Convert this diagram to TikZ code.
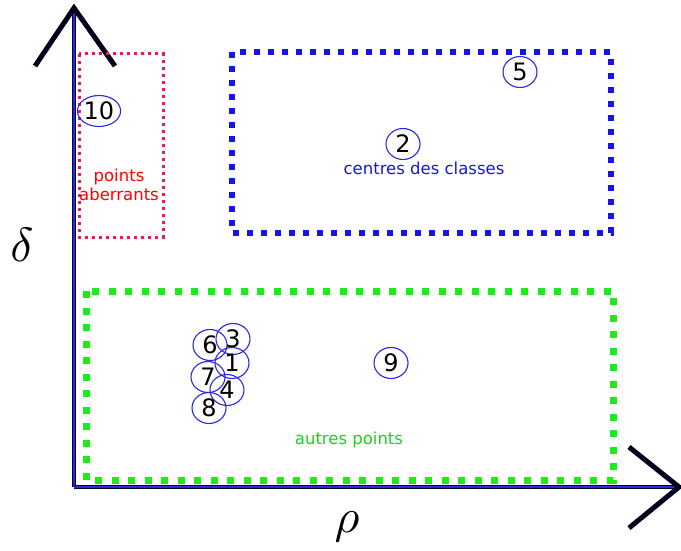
\documentclass[tikz,border=0pt]{standalone}
\usepackage{fontspec}
\setmainfont{DejaVu Sans}
\usetikzlibrary{shapes.geometric, positioning}
\definecolor{zoneblue}{RGB}{20,20,235}
\definecolor{zonered}{RGB}{235,25,85}
\definecolor{zonegreen}{RGB}{30,235,30}
\definecolor{axisblue}{RGB}{40,40,230}

\begin{document}
\begin{tikzpicture}[x=1pt, y=-1pt,
        point/.style={ellipse, draw=axisblue, line width=1.1pt, minimum width=34pt, minimum height=31pt, inner sep=0pt, font=\fontsize{24}{24}\selectfont},
        axis/.style={draw=black!85!blue, line width=1.2pt, double=axisblue, double distance=1.6pt},
        tip/.style={line width=5pt, black!90!blue},
        zone/.style={font=\fontsize{16.5}{19}\selectfont, align=center},
        bluebox/.style={draw=zoneblue, line width=6pt, dash pattern=on 6pt off 8pt},
        redbox/.style={draw=zonered, line width=3pt, dash pattern=on 3.3pt off 3.7pt},
        greenbox/.style={draw=zonegreen, line width=7pt, dash pattern=on 7pt off 9.5pt},
        axislabel/.style={scale=4.8, inner sep=0pt}
    ]
    \useasboundingbox (0,0) rectangle (681,551);

    % --- 1. AXES ---
    \coordinate (origin) at (74,487);
    \coordinate (ytop) at (74,8);
    \coordinate (xend) at (679,487);
    \draw [axis] (origin) -- (ytop);
    \draw [axis] (origin) -- (xend);
    \draw [tip] (35,66) -- (ytop) -- (115,66);
    \draw [tip] (629,447) -- (xend) -- (629,528);
    \node [axislabel] (delta) at (22,245) {$\delta$};
    \node [axislabel] (rho) at (347,527) {$\rho$};

    % --- 2. ZONES ---
    \draw [redbox] (79,54) rectangle (163,237);
    \draw [bluebox] (232,52) rectangle (611,233);
    \draw [greenbox] (86,291) rectangle (613,480);

    \node [zone, text=red] (lab_red) at (119,185) {points\\aberrants};
    \node [zone, text=zoneblue] (lab_blue) at (424,168) {centres des classes};
    \node [zone, text=zonegreen!90!black] (lab_green) at (349,440) {autres points};

    % --- 3. POINTS ---
    \node [point] (p10) at (99,111) {10};
    \node [point] (p5) at (520,72) {5};
    \node [point] (p2) at (403,144) {2};
    \node [point] (p9) at (391,363) {9};

    % Cluster
    \node [point] (p6) at (210,345) {6};
    \node [point] (p3) at (233,339) {3};
    \node [point] (p1) at (232,363) {1};
    \node [point] (p7) at (208,377) {7};
    \node [point] (p4) at (227,390) {4};
    \node [point] (p8) at (209,408) {8};

\end{tikzpicture}
\end{document}
